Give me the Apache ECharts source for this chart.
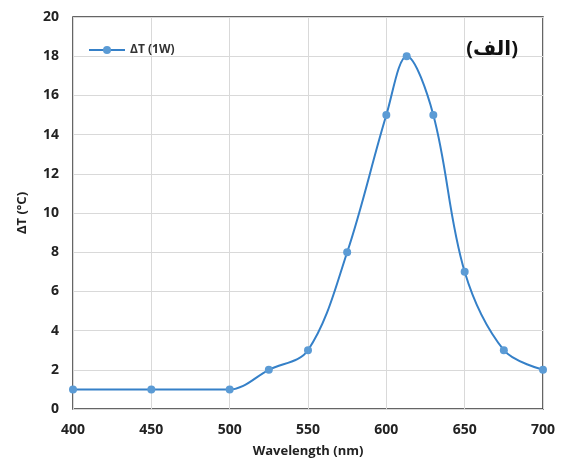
<!DOCTYPE html>
<html><head><meta charset="utf-8">
<script src="https://cdn.jsdelivr.net/npm/echarts@6/dist/echarts.min.js"></script>
<style>html,body{margin:0;padding:0;background:#fff}#c{width:563px;height:466px}</style>
</head><body><div id="c"></div>
<script>
const wavelengths = [400, 450, 500, 525, 550, 575, 600, 613, 630, 650, 675, 700];
const deltaT = [1, 1, 1, 2, 3, 8, 15, 18, 15, 7, 3, 2];
const seriesName = 'ΔT (1W)';
const xTitle = 'Wavelength (nm)';
const yTitle = 'ΔT (°C)';
const panelLabel = '(الف)';

const font = 'Open Sans, Lato, sans-serif';
const chart = echarts.init(document.getElementById('c'), null, {renderer: 'canvas'});
chart.setOption({
  animation: false,
  grid: {left: 73, right: 20, top: 17, bottom: 57, show: true, borderColor: '#333', borderWidth: 1.5},
  title: {text: panelLabel, right: 40, top: 34, textStyle: {fontFamily: 'Noto Sans, DejaVu Sans, sans-serif', fontSize: 20, fontWeight: 'bold', color: '#111'}},
  legend: {left: 83, top: 39, itemWidth: 36, itemHeight: 10, itemGap: 4,
    textStyle: {fontFamily: font, fontSize: 12, fontWeight: 'bold', color: '#333'},
    data: [{name: seriesName}]},
  xAxis: {type: 'value', min: 400, max: 700, interval: 50,
    name: xTitle, nameLocation: 'middle', nameGap: 36,
    nameTextStyle: {fontFamily: font, fontSize: 13, fontWeight: 'bold', color: '#222'},
    axisLine: {show: false}, axisTick: {show: false},
    axisLabel: {fontFamily: font, fontSize: 14, fontWeight: 'bold', color: '#222', margin: 14},
    splitLine: {show: true, lineStyle: {color: '#d9d9d9', width: 1}}},
  yAxis: {type: 'value', min: 0, max: 20, interval: 2,
    name: yTitle, nameLocation: 'middle', nameGap: 44,
    nameTextStyle: {fontFamily: font, fontSize: 13, fontWeight: 'bold', color: '#222'},
    axisLine: {show: false}, axisTick: {show: false},
    axisLabel: {fontFamily: font, fontSize: 14, fontWeight: 'bold', color: '#222', margin: 14},
    splitLine: {show: true, lineStyle: {color: '#d9d9d9', width: 1}}},
  series: [{
    name: seriesName, type: 'line', smooth: 0.35,
    data: wavelengths.map((w, i) => [w, deltaT[i]]),
    symbol: 'circle', symbolSize: 8,
    lineStyle: {color: '#3580c8', width: 2},
    itemStyle: {color: '#5b9bd5'}
  }]
});
</script></body></html>
